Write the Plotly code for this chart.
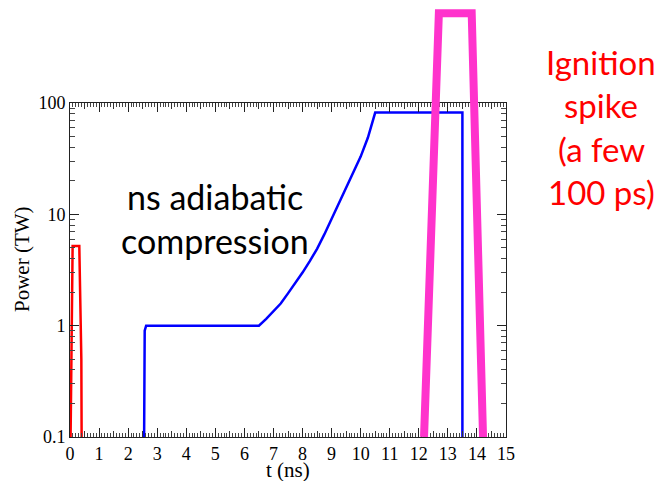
import plotly.graph_objects as go

# ---- data ----
t_red = [0.02, 0.09, 0.32, 0.34, 0.39, 0.40]
p_red = [0.1, 5.2, 5.2, 3.0, 0.5, 0.1]

t_blue = [2.55, 2.57, 2.62, 6.5, 6.75, 7.0, 7.25, 7.5, 7.75, 8.0, 8.25, 8.5, 8.75, 9.0,
          9.25, 9.5, 9.75, 10.0, 10.25, 10.5, 13.5, 13.5]
p_blue = [0.1, 0.9, 1.0, 1.0, 1.15, 1.35, 1.58, 1.95, 2.4, 3.0, 3.8, 4.9, 6.6, 9.1,
          12.6, 17.4, 23.5, 33.0, 49.0, 82.0, 82.0, 0.1]

t_spike = [12.18, 12.69, 13.82, 14.21]
p_spike = [0.1, 640.0, 640.0, 0.1]

x_ticks = list(range(0, 16))
y_ticks = [0.1, 1, 10, 100]
y_ticktext = ["0.1", "1", "10", "100"]

# ---- layout geometry (page has an 8px body margin) ----
OFF = 8
W, H = 662 - OFF, 481 - OFF
ML, MT = 70 - OFF, 0
PLOT_R, PLOT_B = 506 - OFF, 437 - OFF
MR, MB = W - PLOT_R, H - PLOT_B
PW = W - ML - MR
PH = H - MT - MB
MAIN_TOP = 103 - OFF
dom_top = (PH - MAIN_TOP) / PH
dec_px = (PH - MAIN_TOP) / 3.0
y2_top = -1 + PH / dec_px

def px(xp):
    return (xp - OFF - ML) / PW

def py(yp):
    return (PH - (yp - OFF - MT)) / PH

serif = "Liberation Serif, Times New Roman, serif"
sans = "Lato, Carlito, Calibri, sans-serif"

fig = go.Figure()
fig.add_trace(go.Scatter(x=t_red, y=p_red, mode="lines",
                         line=dict(color="#ff0000", width=2.5), xaxis="x", yaxis="y"))
fig.add_trace(go.Scatter(x=t_blue, y=p_blue, mode="lines",
                         line=dict(color="#0000ff", width=2.5), xaxis="x", yaxis="y"))
fig.add_trace(go.Scatter(x=t_spike, y=p_spike, mode="lines",
                         line=dict(color="#ff33cc", width=8), xaxis="x2", yaxis="y2"))

minor_y = [m * 10 ** e for e in (-1, 0, 1) for m in range(2, 10)]

fig.update_layout(
    width=W, height=H,
    margin=dict(l=ML, r=MR, t=MT, b=MB, pad=0, autoexpand=False),
    paper_bgcolor="white", plot_bgcolor="rgba(0,0,0,0)",
    showlegend=False,
    xaxis=dict(range=[0, 15], domain=[0, 1], anchor="y",
               tickvals=x_ticks, ticks="inside", ticklen=9, tickcolor="#222",
               showline=True, linecolor="#222", linewidth=1, mirror="ticks",
               showgrid=False, zeroline=False,
               tickfont=dict(family=serif, size=18, color="black"),
               minor=dict(dtick=0.1, tick0=0, ticks="inside", ticklen=4, tickcolor="#444", showgrid=False)),
    xaxis3=dict(range=[0, 15], overlaying="x", anchor="y", side="bottom",
                tickvals=[i + 0.5 for i in range(15)], ticks="inside", ticklen=6, tickcolor="#333",
                showticklabels=False, showline=False, mirror="ticks", showgrid=False, zeroline=False),
    yaxis=dict(type="log", range=[-1, 2], domain=[0, dom_top], anchor="x",
               tickvals=y_ticks, ticktext=y_ticktext, ticks="inside", ticklen=9, tickcolor="#222",
               showline=True, linecolor="#222", linewidth=1, mirror="ticks",
               showgrid=False, zeroline=False,
               tickfont=dict(family=serif, size=18, color="black"),
               minor=dict(tickvals=minor_y, ticks="inside", ticklen=5, tickcolor="#444", showgrid=False)),
    xaxis2=dict(range=[0, 15], domain=[0, 1], anchor="y2", visible=False),
    yaxis2=dict(type="log", range=[-1, y2_top], domain=[0, 1], anchor="x2", visible=False),
)

# invisible trace to activate xaxis3
fig.add_trace(go.Scatter(x=[0], y=[1], mode="markers", marker=dict(opacity=0),
                         xaxis="x3", yaxis="y", hoverinfo="skip"))

ann = []
ann.append(dict(text="Power (TW)", x=px(22), y=py(259), xref="paper", yref="paper",
                textangle=-90, showarrow=False, xanchor="center", yanchor="middle",
                font=dict(family=serif, size=21, color="black")))
ann.append(dict(text="t (ns)", x=px(288), y=py(470), xref="paper", yref="paper",
                showarrow=False, xanchor="center", yanchor="middle",
                font=dict(family=serif, size=21, color="black")))
for txt, yy in [("ns adiabatic", 197), ("compression", 240)]:
    ann.append(dict(text=txt, x=px(215), y=py(yy), xref="paper", yref="paper",
                    showarrow=False, xanchor="center", yanchor="middle",
                    font=dict(family=sans, size=34, color="black")))
for txt, yy in [("Ignition", 62), ("spike", 105), ("(a few", 149), ("100 ps)", 192)]:
    ann.append(dict(text=txt, x=px(601), y=py(yy), xref="paper", yref="paper",
                    showarrow=False, xanchor="center", yanchor="middle",
                    font=dict(family=sans, size=33, color="#ff0000")))
fig.update_layout(annotations=ann)

fig.write_html("out.html")
